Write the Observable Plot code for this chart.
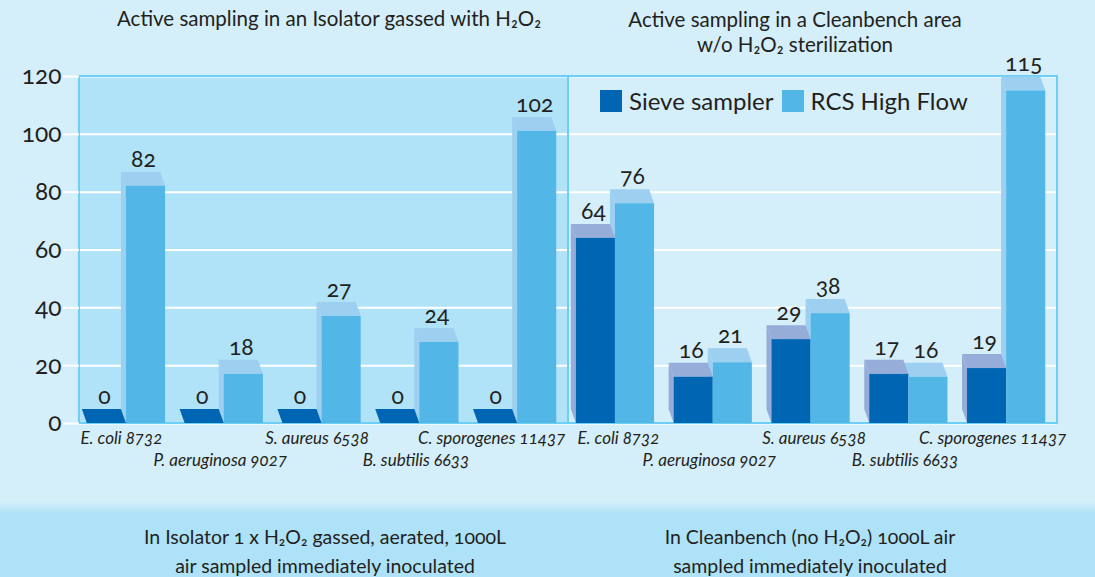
<!DOCTYPE html>
<html><head><meta charset="utf-8">
<script src="https://cdn.jsdelivr.net/npm/d3@7"></script>
<script src="https://cdn.jsdelivr.net/npm/@observablehq/plot@0.6"></script>
<style>
body{margin:0;background:#d4eefa;}
#wrap{position:relative;width:1095px;height:577px;overflow:hidden;
 background:linear-gradient(to bottom,#d4eefa 0px,#d4eefa 501px,#ade2f8 514px,#ade2f8 577px);
 font-family:Lato,"Open Sans",sans-serif;}
#wrap svg text{font-variant-numeric:oldstyle-nums;}
#legend{position:absolute;left:600px;top:86px;display:flex;align-items:center;font-size:24px;color:#231f20;font-family:Lato,"Open Sans",sans-serif;}
.sw{display:inline-block;width:22px;height:22px;margin-right:7px}
.lab{margin-right:8px}
</style></head><body><div id="wrap"></div>
<script>
// ---- data ----
const categories = ["E. coli 8732", "P. aeruginosa 9027", "S. aureus 6538", "B. subtilis 6633", "C. sporogenes 11437"];
const panelTitles = ["Active sampling in an Isolator gassed with H₂O₂", "Active sampling in a Cleanbench area\nw/o H₂O₂ sterilization"];
const panelCaptions = ["In Isolator 1 x H₂O₂ gassed, aerated, 1000L\nair sampled immediately inoculated", "In Cleanbench (no H₂O₂) 1000L air\nsampled immediately inoculated"];
const series = ["Sieve sampler", "RCS High Flow"];
// bar heights as drawn
const sieveIsolator = [0, 0, 0, 0, 0];
const rcsIsolator = [82, 17, 37, 28, 101];
const sieveCleanbench = [64, 16, 29, 17, 19];
const rcsCleanbench = [76, 21, 38, 16, 115];
// value labels as printed
const sieveIsolatorLabels = ["0", "0", "0", "0", "0"];
const rcsIsolatorLabels = ["82", "18", "27", "24", "102"];
const sieveCleanbenchLabels = ["64", "16", "29", "17", "19"];
const rcsCleanbenchLabels = ["76", "21", "38", "16", "115"];
const yTicks = [0, 20, 40, 60, 80, 100, 120];

// ---- styles ----
const frontColors = {"Sieve sampler": "#0066b3", "RCS High Flow": "#52b6e7"};
const sideColors = {"Sieve sampler": "#97add9", "RCS High Flow": "#9dcff0"};
const ink = "#231f20";
const nCat = categories.length;
const barW = 0.4, pairOffset = 0.48;
const depthX = -5, depthY = -14;

const panelValues = [[sieveIsolator, rcsIsolator], [sieveCleanbench, rcsCleanbench]];
const panelLabels = [[sieveIsolatorLabels, rcsIsolatorLabels], [sieveCleanbenchLabels, rcsCleanbenchLabels]];

const rows = [];
const cats = [];
panelValues.forEach((pv, p) => {
  categories.forEach((c, i) => {
    const slot = p * nCat + i;
    const center = slot + pairOffset;
    cats.push({name: c, center, panel: p, row: i % 2, last: i === nCat - 1});
    series.forEach((s, k) => {
      rows.push({
        panel: p, category: c, series: s, value: pv[k][i], label: panelLabels[p][k][i],
        x1: k === 0 ? center - barW : center,
        x2: k === 0 ? center : center + barW
      });
    });
  });
});
const panels = panelTitles.map((t, i) => ({title: t, caption: panelCaptions[i], x1: i * nCat, x2: (i + 1) * nCat}));

// 3D side + top faces drawn through the plot's scales
function faces(index, scales) {
  const {x, y} = scales;
  const g = d3.create("svg:g");
  const ordered = [...rows].sort((a, b) => series.indexOf(b.series) - series.indexOf(a.series));
  for (const d of ordered) {
    const xa = x(d.x1), xb = x(d.x2), yt = y(d.value), y0 = y(0);
    const side = sideColors[d.series];
    if (d.value > 0) {
      g.append("path")
        .attr("d", `M${xa},${yt}L${xa + depthX},${yt + depthY}L${xa + depthX},${y0 + depthY}L${xa},${y0}Z`)
        .attr("fill", side);
    }
    g.append("path")
      .attr("d", `M${xa},${yt}L${xa + depthX},${yt + depthY}L${xb + depthX},${yt + depthY}L${xb},${yt}Z`)
      .attr("fill", d.value === 0 ? frontColors[d.series] : side);
  }
  return g.node();
}

const catText = {frameAnchor: "bottom", text: "name", fontSize: 17, fontStyle: "italic", fill: ink, x: "center"};

const chart = Plot.plot({
  width: 1095, height: 577,
  marginTop: 76, marginBottom: 154, marginLeft: 79, marginRight: 38,
  style: {background: "transparent", overflow: "visible", fontFamily: "Lato, 'Open Sans', sans-serif", color: ink},
  x: {domain: [0, 2 * nCat], axis: null},
  y: {domain: [0, 120], axis: null},
  color: {domain: series, range: series.map(s => frontColors[s])},
  marks: [
    Plot.rect(panels.slice(0, 1), {x1: "x1", x2: "x2", y1: 0, y2: 120, fill: "#b0e2f8"}),
    Plot.gridY(yTicks, {stroke: "white", strokeOpacity: 1, strokeWidth: 2}),
    Plot.rect(panels, {x1: "x1", x2: "x2", y1: 0, y2: 120, fill: "none", stroke: "#6dcff6", strokeWidth: 2}),
    Plot.axisY(yTicks, {anchor: "left", tickSize: 16, tickPadding: 2, stroke: "white", strokeWidth: 2, fontSize: 24.5, fill: ink, label: null}),
    faces,
    Plot.rect(rows, {x1: "x1", x2: "x2", y1: 0, y2: "value", fill: "series"}),
    Plot.text(rows, {x: d => (d.x1 + d.x2) / 2, y: "value", dx: depthX / 2, dy: depthY - 13, text: "label", fontSize: 23, fill: ink}),
    Plot.text(cats.filter(d => d.row === 0 && !d.last && d.panel === 0), {...catText, dy: 20, dx: -5}),
    Plot.text(cats.filter(d => d.row === 0 && !d.last && d.panel === 1), {...catText, dy: 20, dx: 3}),
    Plot.text(cats.filter(d => d.last && d.panel === 0), {...catText, dy: 20, dx: -26}),
    Plot.text(cats.filter(d => d.last && d.panel === 1), {...catText, dy: 20, dx: -14}),
    Plot.text(cats.filter(d => d.row === 1), {...catText, dy: 42, dx: -4}),
    Plot.text(panels.slice(0, 1), {x: d => (d.x1 + d.x2) / 2, frameAnchor: "top", dy: -68, dx: 5, lineAnchor: "top", text: "title", fontSize: 20.5, lineHeight: 1.22, fill: ink}),
    Plot.text(panels.slice(1), {x: d => (d.x1 + d.x2) / 2, frameAnchor: "top", dy: -67, dx: -18, lineAnchor: "top", text: "title", fontSize: 20.5, lineHeight: 1.22, fill: ink}),
    Plot.text(panels.slice(0, 1), {x: d => (d.x1 + d.x2) / 2, frameAnchor: "bottom", dy: 99, dx: 1, lineAnchor: "top", text: "caption", fontSize: 19.5, lineHeight: 1.52, fill: ink}),
    Plot.text(panels.slice(1), {x: d => (d.x1 + d.x2) / 2, frameAnchor: "bottom", dy: 99, dx: -3, lineAnchor: "top", text: "caption", fontSize: 19.5, lineHeight: 1.52, fill: ink})
  ]
});
const wrap = document.getElementById("wrap");
wrap.appendChild(chart);
const legend = document.createElement("div");
legend.id = "legend";
legend.innerHTML = series.map(s => `<span class="sw" style="background:${frontColors[s]}"></span><span class="lab">${s}</span>`).join("");
wrap.appendChild(legend);
</script>
</body></html>
